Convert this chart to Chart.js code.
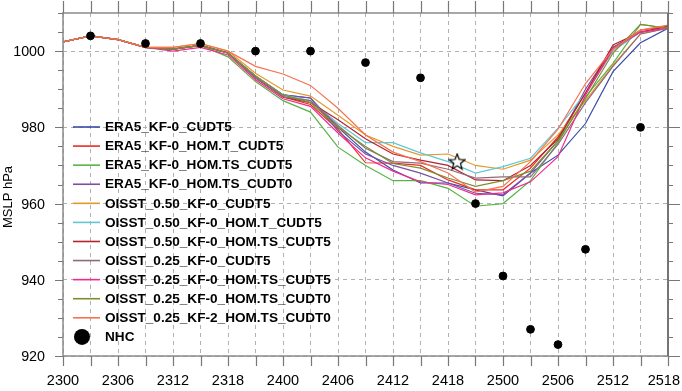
<!DOCTYPE html>
<html>
<head>
<meta charset="utf-8">
<script src="https://cdn.jsdelivr.net/npm/chart.js@4/dist/chart.umd.min.js"></script>
<style>
  html, body { margin: 0; padding: 0; background: #fff; }
  #wrap { width: 682px; height: 391px; position: relative; }
</style>
</head>
<body>
<div id="wrap"><canvas id="mslp" width="682" height="391"></canvas></div>
<script>
// model output every 3 h (DDHH)
var times = ['2300','2303','2306','2309','2312','2315','2318','2321',
             '2400','2403','2406','2409','2412','2415','2418','2421',
             '2500','2503','2506','2509','2512','2515','2518'];
var tickLabels = ['2300','2306','2312','2318','2400','2406','2412','2418','2500','2506','2512','2518'];

var runNames = ['ERA5_KF-0_CUDT5', 'ERA5_KF-0_HOM.T_CUDT5', 'ERA5_KF-0_HOM.TS_CUDT5', 'ERA5_KF-0_HOM.TS_CUDT0',
                'OISST_0.50_KF-0_CUDT5', 'OISST_0.50_KF-0_HOM.T_CUDT5', 'OISST_0.50_KF-0_HOM.TS_CUDT5',
                'OISST_0.25_KF-0_CUDT5', 'OISST_0.25_KF-0_HOM.TS_CUDT5', 'OISST_0.25_KF-0_HOM.TS_CUDT0',
                'OISST_0.25_KF-2_HOM.TS_CUDT0'];
var runColors = ['#3a4ba5', '#ec2b24', '#5bb346', '#7b4fa3', '#e39a2b', '#63c6d6', '#b5232b',
                 '#8e6b7c', '#ef2b8e', '#7b8f2e', '#f9714f'];

var era5Cudt5       = [1002.4,1004,1003,1001,1000.5,1001.5, 999.5,993.5,988.5,987.7,980,973.5,968.8,965.4,965.4,963.6,962,968,972.7,981,994.6,1002.2,1006];
var era5HomT        = [1002.4,1004,1003,1001,1000.5,1001.5, 999.5,993,988,986,979.5,970.7,970.6,970,966.2,963.6,963.6,969.3,977.5,989,1000.8,1005.5,1006.5];
var era5HomTs       = [1002.4,1004,1003,1001,1000.5,1001.5, 998.5,992,987,984,974.8,970,966,966,964,959.3,960,966,976,988,996.8,1007,1006];
var era5HomTs0      = [1002.4,1004,1003,1001,1000.5,1001.5, 999.5,993.5,988.5,987.7,979,973,970,968,965.4,962.7,962.3,968,976.5,990,1001,1005,1006];
var oisst50Cudt5    = [1002.4,1004,1003,1001,1001,1002, 1000,994.2,989.8,988.2,983.2,978,975,972.7,973,970,969,971.4,978,987,996.3,1004.5,1006];
var oisst50HomT     = [1002.4,1004,1003,1001,1000.5,1001.5, 999.5,993.5,988.5,987,981,976,976,973.3,971,968,969.7,971.9,979.8,989,1000,1005,1006];
var oisst50HomTs    = [1002.4,1004,1003,1001,1000.5,1001.5, 999.5,993,988,986.5,982,977,973,971.4,970,966.2,966,970,977,989,1001.6,1005,1006.5];
var oisst25Cudt5    = [1002.4,1004,1003,1001,1000.5,1001.5, 999.5,993,988,987,980.5,974.5,971,970.6,969,966.7,967,967,975.5,986.5,996,1004.5,1006];
var oisst25HomTs    = [1002.4,1004,1003,1001,1000,1001, 999,992.5,987.5,985.5,978.5,972,968.5,965.7,965,962.3,962.8,965.7,972.3,988.5,1000.5,1005,1006];
var oisst25HomTs0   = [1002.4,1004,1003,1001,1000.5,1001.5, 999.5,993.5,988.5,986.5,980,975,970.5,969.3,966.7,964.5,966,968.5,976.5,987.5,999.5,1007,1006];
var oisst25Kf2HomTs0= [1002.4,1004,1003,1001,1001,1002, 1000,996,994,991,985,978,973.5,971,968,963,964.5,971,979.5,991.5,1000.5,1005.5,1006.8];

var runValues = [era5Cudt5, era5HomT, era5HomTs, era5HomTs0, oisst50Cudt5, oisst50HomT, oisst50HomTs,
                 oisst25Cudt5, oisst25HomTs, oisst25HomTs0, oisst25Kf2HomTs0];

// NHC best track
var nhcTimes = ['2303','2309','2315','2321','2403','2409','2415','2421','2500','2503','2506','2509','2515'];
var nhcMslp  = [1004, 1002, 1002, 1000, 1000, 997, 993, 960, 941, 927, 923, 948, 980];

// star marker
var starTime = '2419';
var starMslp = 971;

function toHours(t) {
  var d = parseInt(t.slice(0, 2), 10), h = parseInt(t.slice(2), 10);
  return (d - 23) * 24 + h;
}

function pairs(ts, vs) {
  return ts.map(function (t, i) { return { x: toHours(t), y: vs[i] }; });
}

// hollow star as point style
var starImg = document.createElement('canvas');
starImg.width = 18; starImg.height = 18;
(function () {
  var c = starImg.getContext('2d');
  c.beginPath();
  for (var k = 0; k < 10; k++) {
    var r = (k % 2 === 0) ? 8.3 : 3.5;
    var a = -Math.PI / 2 + k * Math.PI / 5;
    var px = 9 + r * Math.cos(a), py = 9.6 + r * Math.sin(a);
    if (k === 0) c.moveTo(px, py); else c.lineTo(px, py);
  }
  c.closePath();
  c.fillStyle = '#fff';
  c.fill();
  c.lineWidth = 1.2;
  c.strokeStyle = '#000';
  c.stroke();
})();

var FONT = '"Liberation Sans", Arial, Helvetica, sans-serif';

var datasets = [{
  label: 'NHC',
  data: pairs(nhcTimes, nhcMslp),
  showLine: false,
  pointRadius: 3.9,
  backgroundColor: '#000',
  borderColor: '#000',
  order: 0
}, {
  label: 'star',
  data: [{ x: toHours(starTime), y: starMslp }],
  showLine: false,
  pointStyle: starImg,
  pointRadius: 9,
  order: 0
}];

runNames.forEach(function (name, i) {
  datasets.push({
    label: name,
    data: pairs(times, runValues[i]),
    borderColor: runColors[i],
    backgroundColor: runColors[i],
    borderWidth: 1.2,
    pointRadius: 0,
    tension: 0,
    order: runNames.length - i
  });
});

// legend, axis labels, frame and tick marks
var decor = {
  id: 'decor',
  afterDraw: function (chart) {
    var ctx = chart.ctx, ca = chart.chartArea;
    var xs = chart.scales.x, ys = chart.scales.y;
    ctx.save();

    // frame
    ctx.strokeStyle = '#8a8a8a';
    ctx.lineWidth = 1.5;
    ctx.strokeRect(ca.left, ca.top, ca.right - ca.left, ca.bottom - ca.top);
    ctx.strokeStyle = '#666';
    ctx.beginPath(); ctx.moveTo(ca.right, ca.top); ctx.lineTo(ca.right, ca.bottom); ctx.stroke();

    // x tick marks top and bottom, labels every 6 h
    ctx.lineWidth = 1.2;
    ctx.strokeStyle = '#777';
    ctx.fillStyle = '#000';
    ctx.font = '14.5px ' + FONT;
    ctx.textAlign = 'center';
    ctx.textBaseline = 'middle';
    times.forEach(function (t) {
      var px = Math.round(xs.getPixelForValue(toHours(t))) + 0.5;
      ctx.beginPath();
      ctx.moveTo(px, ca.top); ctx.lineTo(px, ca.top - 12);
      ctx.moveTo(px, ca.bottom); ctx.lineTo(px, ca.bottom + 10);
      ctx.stroke();
    });
    tickLabels.forEach(function (t) {
      var half = ctx.measureText(t).width / 2;
      var px = Math.min(xs.getPixelForValue(toHours(t)), chart.width - half - 2);
      ctx.fillText(t, px, ca.bottom + 25);
    });

    // y tick marks left and right, labels every 20 hPa
    ctx.textAlign = 'right';
    ctx.font = '14.3px ' + FONT;
    ys.ticks.forEach(function (tk) {
      var py = Math.round(ys.getPixelForValue(tk.value)) + 0.5;
      var major = tk.value % 20 === 0;
      ctx.beginPath();
      ctx.moveTo(ca.left, py); ctx.lineTo(ca.left - (major ? 8 : 5), py);
      ctx.moveTo(ca.right, py); ctx.lineTo(ca.right + (major ? 12 : 5), py);
      ctx.stroke();
      if (major) ctx.fillText(String(tk.value), ca.left - 18, py + 0.5);
    });

    // y title
    ctx.font = '13px ' + FONT;
    ctx.textAlign = 'center';
    ctx.translate(8, 197);
    ctx.rotate(-Math.PI / 2);
    ctx.fillText('MSLP hPa', 0, 0);
    ctx.setTransform(1, 0, 0, 1, 0, 0);

    // legend inside the plot
    ctx.font = 'bold 13.6px ' + FONT;
    ctx.textAlign = 'left';
    runNames.forEach(function (name, i) {
      var ly = 127 + i * 19.08;
      ctx.strokeStyle = runColors[i];
      ctx.lineWidth = 1.6;
      ctx.beginPath(); ctx.moveTo(73, ly); ctx.lineTo(100, ly); ctx.stroke();
      ctx.fillText(name, 105, ly + 0.5);
    });
    var ny = 127 + runNames.length * 19.08;
    ctx.beginPath(); ctx.arc(82, ny, 8, 0, Math.PI * 2); ctx.fill();
    ctx.fillText('NHC', 105, ny + 0.5);

    ctx.restore();
  }
};

var mslp = document.getElementById('mslp').getContext('2d');
var chartMslp = new Chart(mslp, {
  type: 'line',
  data: { datasets: datasets },
  plugins: [decor],
  options: {
    responsive: false,
    animation: false,
    devicePixelRatio: 1,
    layout: { padding: { top: 13, right: 14, left: 0, bottom: 0 } },
    plugins: { legend: { display: false }, tooltip: { enabled: false } },
    scales: {
      x: {
        type: 'linear',
        min: 0,
        max: 66,
        afterFit: function (s) { s.height = 35; },
        grid: { color: '#b0b0b0', lineWidth: 1, drawTicks: false },
        border: { display: false, dash: [4, 4] },
        ticks: { display: false, stepSize: 3, autoSkip: false }
      },
      y: {
        min: 920,
        max: 1010,
        afterFit: function (s) { s.width = 63; },
        grid: {
          color: function (c) { return (c.tick && c.tick.value % 20 === 0 && c.tick.value < 1010) ? '#b0b0b0' : 'rgba(0,0,0,0)'; },
          lineWidth: 1,
          drawTicks: false
        },
        border: { display: false, dash: [4, 4] },
        ticks: { display: false, stepSize: 5, autoSkip: false }
      }
    }
  }
});
</script>
</body>
</html>
